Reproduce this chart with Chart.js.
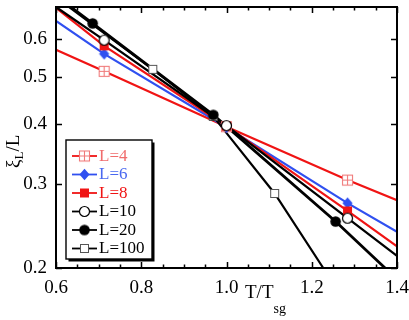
<!DOCTYPE html>
<html><head><meta charset="utf-8">
<script src="https://cdn.jsdelivr.net/npm/chart.js@4.4.1/dist/chart.umd.min.js"></script>
<style>html,body{margin:0;padding:0;background:#fff}#wrap{position:relative;width:409px;height:320px}</style>
</head><body><div id="wrap"><canvas id="c" width="409" height="320"></canvas></div>
<script>
// ---- data ----
const seriesLabels = ['L=4', 'L=6', 'L=8', 'L=10', 'L=20', 'L=100'];
const tempsSmallL = [0.713, 1.0, 1.284];
const xiL4  = [0.514, 0.394, 0.305];
const xiL6  = [0.559, 0.393, 0.273];
const xiL8  = [0.581, 0.395, 0.263];
const xiL10 = [0.597, 0.396, 0.254];
const tempsL20 = [0.686, 0.969, 1.256];
const xiL20 = [0.647, 0.417, 0.250];
const tempsL100 = [0.827, 0.969, 1.113];
const xiL100 = [0.519, 0.414, 0.286];
// extension of each curve to the frame edges
const lineStartT  = [0.6, 0.6, 0.6, 0.6, 0.635, 0.631];
const lineStartXi = [0.570, 0.655, 0.697, 0.700, 0.700, 0.700];
const lineEndT    = [1.4, 1.4, 1.4, 1.4, 1.372, 1.227];
const lineEndXi   = [0.277, 0.238, 0.222, 0.212, 0.200, 0.200];
const xTickValues = [0.6, 0.8, 1.0, 1.2, 1.4];
const xMinorStep = 0.05;
const yTickValues = [0.2, 0.3, 0.4, 0.5, 0.6];

const seriesT = [tempsSmallL, tempsSmallL, tempsSmallL, tempsSmallL, tempsL20, tempsL100];
const seriesXi = [xiL4, xiL6, xiL8, xiL10, xiL20, xiL100];

// ---- styles ----
const lineColors = ['#f01414', '#3050f0', '#f01414', '#000000', '#000000', '#000000'];
const lineWidths = [2.2, 2.2, 2.2, 2.3, 2.8, 2.2];
const legendTextColors = ['#f06c6c', '#4a68f0', '#f01414', '#000', '#000', '#000'];
const markerKinds = ['crossSquare', 'diamond', 'square', 'circleOpen', 'circleFilled', 'squareOpen'];
const FONT = '"Liberation Serif", "Times New Roman", serif';

function makeMarker(kind) {
  const s = 13, c = document.createElement('canvas');
  c.width = s; c.height = s;
  const g = c.getContext('2d');
  const m = s / 2;
  if (kind === 'crossSquare') {
    g.fillStyle = '#fff'; g.fillRect(1.5, 1.5, 10, 10);
    g.strokeStyle = '#f07a7a'; g.lineWidth = 1.1;
    g.strokeRect(1.5, 1.5, 10, 10);
    g.beginPath(); g.moveTo(m, 1.5); g.lineTo(m, 11.5); g.moveTo(1.5, m); g.lineTo(11.5, m); g.stroke();
  } else if (kind === 'diamond') {
    g.fillStyle = '#3050f0';
    g.beginPath(); g.moveTo(m, 0.8); g.lineTo(11.6, m); g.lineTo(m, 12.2); g.lineTo(1.4, m); g.closePath(); g.fill();
  } else if (kind === 'square') {
    g.fillStyle = '#f01414'; g.fillRect(2, 2, 9, 9);
  } else if (kind === 'circleOpen') {
    g.fillStyle = '#fff'; g.strokeStyle = '#000'; g.lineWidth = 1.2;
    g.beginPath(); g.arc(m, m, 5, 0, Math.PI * 2); g.fill(); g.stroke();
  } else if (kind === 'circleFilled') {
    g.fillStyle = '#000';
    g.beginPath(); g.arc(m, m, 5.3, 0, Math.PI * 2); g.fill();
  } else if (kind === 'squareOpen') {
    g.fillStyle = '#fff'; g.strokeStyle = '#555'; g.lineWidth = 1;
    g.fillRect(2.5, 2.5, 8, 8); g.strokeRect(2.5, 2.5, 8, 8);
  }
  return c;
}
const markerImgs = markerKinds.map(makeMarker);

const datasets = [];
seriesLabels.forEach((lab, i) => {
  const pts = seriesT[i].map((t, k) => ({ x: t, y: seriesXi[i][k] }));
  datasets.push({
    label: lab + ' curve',
    data: [{ x: lineStartT[i], y: lineStartXi[i] }, ...pts, { x: lineEndT[i], y: lineEndXi[i] }],
    showLine: true, pointRadius: 0, borderColor: lineColors[i], borderWidth: lineWidths[i],
    tension: 0, order: 30 - i
  });
});
const markerOrder = [16, 15, 14, 13, 10, 12];
seriesLabels.forEach((lab, i) => {
  datasets.push({
    label: lab,
    data: seriesT[i].map((t, k) => ({ x: t, y: seriesXi[i][k] })),
    showLine: false, pointStyle: markerImgs[i], pointRadius: 6,
    order: markerOrder[i]
  });
});

const decor = {
  id: 'decor',
  afterDatasetsDraw(chart) {
    const { ctx, chartArea: a, scales } = chart;
    const xs = scales.x, ys = scales.y;
    ctx.save();
    // frame
    ctx.strokeStyle = '#000'; ctx.lineWidth = 2;
    ctx.strokeRect(a.left, a.top, a.right - a.left, a.bottom - a.top);
    // x ticks
    ctx.lineWidth = 1.5;
    ctx.beginPath();
    const nMinor = Math.round((xs.max - xs.min) / xMinorStep);
    for (let k = 0; k <= nMinor; k++) {
      const v = xs.min + k * xMinorStep;
      const isMajor = xTickValues.some(t => Math.abs(t - v) < 1e-6);
      const len = isMajor ? 6 : 3.5;
      const px = Math.round(xs.getPixelForValue(v)) + 0.5;
      ctx.moveTo(px, a.bottom); ctx.lineTo(px, a.bottom - len);
      ctx.moveTo(px, a.top); ctx.lineTo(px, a.top + len);
    }
    yTickValues.forEach(v => {
      const py = Math.round(ys.getPixelForValue(v)) + 0.5;
      ctx.moveTo(a.left, py); ctx.lineTo(a.left + 6, py);
      ctx.moveTo(a.right, py); ctx.lineTo(a.right - 6, py);
    });
    ctx.stroke();

    // legend box with shadow
    const bx = 66, by = 140, bw = 86, bh = 119;
    ctx.fillStyle = '#000';
    ctx.fillRect(bx + 2.5, by + 2.5, bw, bh);
    ctx.fillStyle = '#fff';
    ctx.fillRect(bx, by, bw, bh);
    ctx.lineWidth = 1.4; ctx.strokeStyle = '#000';
    ctx.strokeRect(bx, by, bw, bh);
    ctx.font = '17px ' + FONT;
    ctx.textBaseline = 'middle'; ctx.textAlign = 'left';
    seriesLabels.forEach((lab, i) => {
      const cy = 156 + i * 18.5;
      ctx.strokeStyle = lineColors[i]; ctx.lineWidth = 1.8;
      ctx.beginPath(); ctx.moveTo(72, cy); ctx.lineTo(97, cy); ctx.stroke();
      const img = markerImgs[i];
      ctx.drawImage(img, 84.5 - img.width / 2, cy - img.height / 2);
      ctx.fillStyle = legendTextColors[i];
      ctx.fillText(lab, 99, cy + 0.5);
    });
    ctx.restore();
  },
  afterDraw(chart) {
    const ctx = chart.ctx;
    ctx.save();
    ctx.fillStyle = '#000';
    ctx.textBaseline = 'alphabetic'; ctx.textAlign = 'left';
    // y title: xi_L / L
    ctx.translate(19, 168);
    ctx.rotate(-Math.PI / 2);
    ctx.font = '19px ' + FONT;
    ctx.fillText('ξ', 0, 0);
    let w = ctx.measureText('ξ').width;
    ctx.font = '13px ' + FONT;
    ctx.fillText('L', w, 4);
    w += ctx.measureText('L').width;
    ctx.font = '19px ' + FONT;
    ctx.fillText('/L', w, 0);
    ctx.setTransform(1, 0, 0, 1, 0, 0);
    // x title: T/T_sg
    ctx.font = '19px ' + FONT;
    ctx.fillText('T/T', 245, 298);
    const w2 = ctx.measureText('T/T').width;
    ctx.font = '14px ' + FONT;
    ctx.fillText('sg', 245 + w2, 313);
    ctx.restore();
  }
};

new Chart(document.getElementById('c'), {
  type: 'scatter',
  data: { datasets },
  options: {
    responsive: false, animation: false, devicePixelRatio: 1,
    layout: { padding: { top: 4, right: 12, left: 0, bottom: 0 } },
    plugins: { legend: { display: false }, tooltip: { enabled: false } },
    scales: {
      x: {
        type: 'linear', min: 0.6, max: 1.4,
        afterBuildTicks: s => { s.ticks = xTickValues.map(v => ({ value: v })); },
        afterFit: s => { s.height = 52; s.paddingLeft = 0; s.paddingRight = 0; },
        grid: { display: false, drawTicks: false }, border: { display: false },
        ticks: { padding: 9, color: '#000', font: { family: FONT, size: 19 }, maxRotation: 0, autoSkip: false,
          callback: v => Number(v).toFixed(1) }
      },
      y: {
        type: 'logarithmic', min: 0.2, max: 0.7,
        afterBuildTicks: s => { s.ticks = yTickValues.map(v => ({ value: v })); },
        afterFit: s => { s.width = 56; s.paddingTop = 0; s.paddingBottom = 0; },
        grid: { display: false, drawTicks: false }, border: { display: false },
        ticks: { padding: 9, color: '#000', font: { family: FONT, size: 19 }, autoSkip: false,
          callback: v => Number(v).toFixed(1) }
      }
    }
  },
  plugins: [decor]
});
</script>
</body></html>
